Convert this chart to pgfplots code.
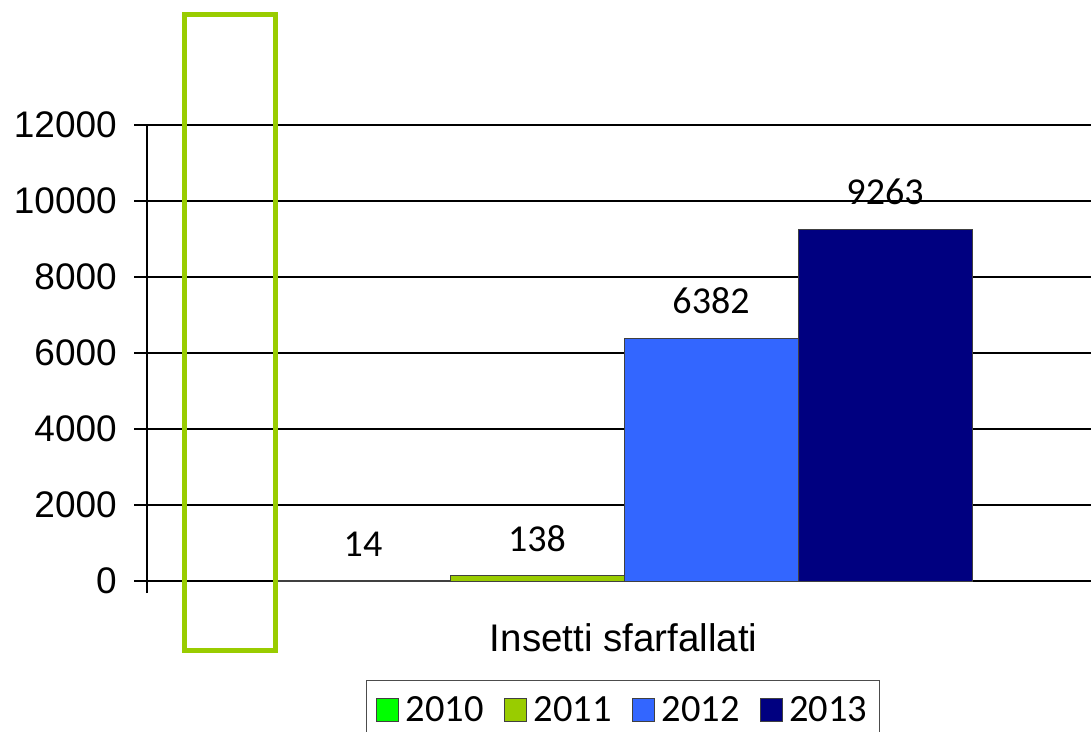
\documentclass[border=0pt]{standalone}
\usepackage{pgfplots}
\pgfplotsset{compat=1.18}
\usepackage{fontspec}
\setmainfont{Liberation Sans}
\newfontfamily\calib{Carlito}
\definecolor{c2010}{HTML}{00FF00}
\definecolor{c2011}{HTML}{99CC00}
\definecolor{c2012}{HTML}{3366FF}
\definecolor{c2013}{HTML}{000080}
\begin{document}
\begin{tikzpicture}
\useasboundingbox (0pt,0pt) rectangle (1091pt,731pt);
\begin{axis}[
  at={(147pt,138pt)}, anchor=south west,
  scale only axis,
  width=944pt, height=468pt,
  xmin=-477, xmax=467,
  ymin=-316, ymax=12000,
  axis x line=none,
  axis y line*=left,
  y axis line style={black, line width=1.5pt},
  ytick={0,2000,4000,6000,8000,10000,12000},
  ymajorgrids,
  grid style={black, line width=1.5pt},
  tick align=outside,
  major tick length=13pt,
  ytick style={black, line width=1.5pt},
  yticklabel style={font=\fontsize{37}{44}\selectfont, inner sep=0pt, xshift=-17pt},
  /pgf/number format/assume math mode=true,
  /pgf/number format/1000 sep={},
  scaled y ticks=false,
  ybar=0pt,
  bar width=174pt,
  nodes near coords,
  every node near coord/.append style={font=\calib\fontsize{38}{45}\selectfont, inner sep=0pt, yshift=24pt, black},
  legend columns=4,
  legend style={at={(axis description cs:0.504,-0.186)}, anchor=north, draw=black!70, line width=0.8pt,
    font=\calib\fontsize{38.5}{46}\selectfont, inner xsep=10pt, inner ysep=14pt,
    /tikz/every odd column/.append style={column sep=5pt},
    /tikz/every even column/.append style={column sep=18pt}},
  legend image code/.code={\draw[#1, draw=black!75, line width=0.8pt] (0pt,-12pt) rectangle (22pt,11pt);},
  clip=false,
]
\addplot[fill=c2010, draw=black!75, line width=0.6pt] coordinates {(0,14)};
\addplot[fill=c2011, draw=black!75, line width=0.6pt] coordinates {(0,138)};
\addplot[fill=c2012, draw=black!75, line width=0.6pt] coordinates {(0,6382)};
\addplot[fill=c2013, draw=black!75, line width=0.6pt] coordinates {(0,9263)};
\legend{2010,2011,2012,2013}
\node[anchor=north, inner sep=0pt, font=\fontsize{38.5}{46}\selectfont] at (axis description cs:0.505,0) [yshift=-30pt] {Insetti sfarfallati};
\end{axis}
\draw[c2011, line width=5pt] (184.5pt,716.5pt) rectangle (275.5pt,81pt);
\end{tikzpicture}
\end{document}
